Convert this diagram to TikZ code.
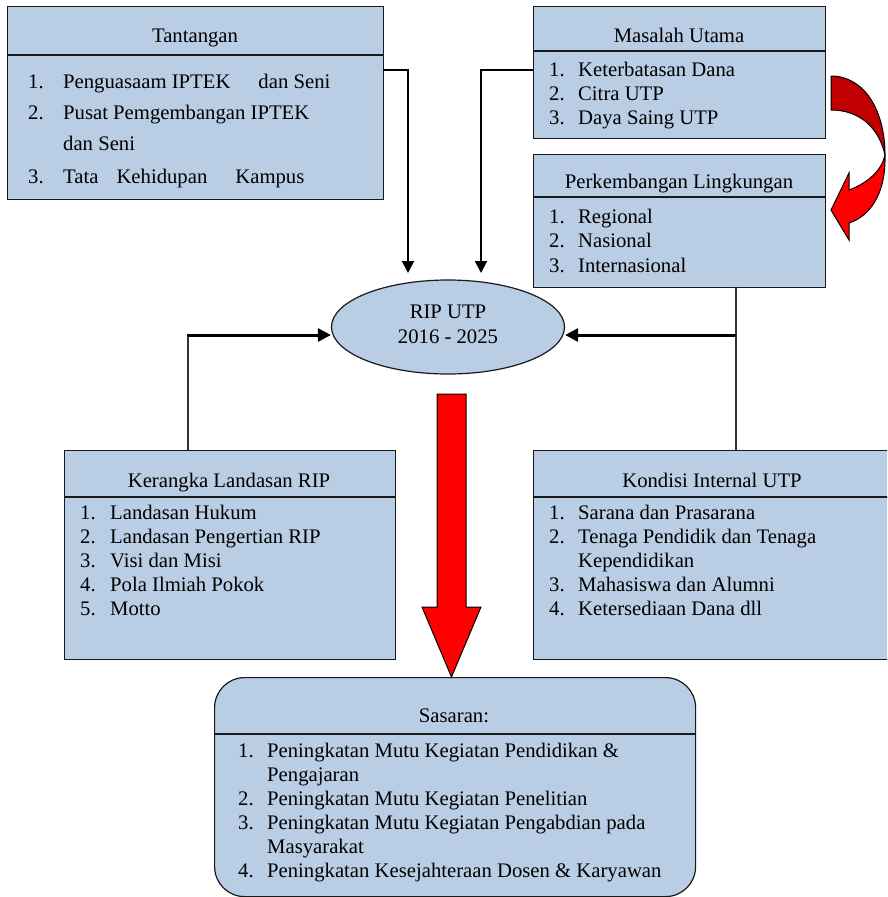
\documentclass[tikz,border=0pt]{standalone}
\usepackage{fontspec}
\setmainfont{Liberation Serif}
\usetikzlibrary{arrows.meta,shapes.geometric}
\definecolor{boxblue}{HTML}{B9CDE5}
\definecolor{darkred}{HTML}{C00000}
\newcommand{\itemtab}[2]{\begin{tabular}[t]{@{}p{#1}@{}l@{}}#2\end{tabular}}
\begin{document}
\begin{tikzpicture}[x=1pt,y=-1pt,
  box/.style={draw=black!90, fill=boxblue, line width=1.2pt, inner sep=0pt, anchor=north west},
  hdr/.style={draw=black!90, line width=1.2pt},
  ttl/.style={anchor=base, inner sep=0pt, font=\fontsize{20.7}{24}\selectfont},
  lst/.style={anchor=base west, inner sep=0pt, font=\fontsize{20.7}{24}\selectfont},
  conn/.style={line width=2pt, -{Triangle[length=12pt,width=12pt]}},
  connthick/.style={line width=3pt, -{Triangle[length=13pt,width=13pt]}},
  plainline/.style={line width=1.5pt, draw=black!80},
  bigarrow/.style={draw=black, line width=1pt, fill=red, line join=miter}
]
\clip (0,0) rectangle (887,897);

% boxes
\node[box, minimum width=376pt, minimum height=193pt] (tant) at (7,6) {};
\node[box, minimum width=292pt, minimum height=132pt] (masl) at (533,6) {};
\node[box, minimum width=292pt, minimum height=133pt] (perk) at (533,154) {};
\node[box, minimum width=331pt, minimum height=209pt] (kera) at (64,450) {};
\node[box, minimum width=358pt, minimum height=209pt] (kond) at (533,450) {};
\node[box, rounded corners=30pt, minimum width=481pt, minimum height=219pt] (sasa) at (214,677) {};
\node[ellipse, draw=black!90, fill=boxblue, line width=1.2pt, minimum width=233pt, minimum height=94pt, inner sep=0pt] (rip) at (448,327) {};

% header lines
\draw[hdr] (7,55) -- (383,55);
\draw[hdr] (533,51) -- (825,51);
\draw[hdr] (533,197) -- (825,197);
\draw[hdr] (64,497) -- (395,497);
\draw[hdr] (533,497) -- (891,497);
\draw[hdr] (214,734) -- (695,734);

% titles
\node[ttl] (tantT) at (195,42) {Tantangan};
\node[ttl] (maslT) at (679,42) {Masalah Utama};
\node[ttl] (perkT) at (679,188) {Perkembangan Lingkungan};
\node[ttl] (keraT) at (229,487) {Kerangka Landasan RIP};
\node[ttl] (kondT) at (712,487) {Kondisi Internal UTP};
\node[ttl] (sasaT) at (454,722) {Sasaran:};
\node[ttl] (rip1) at (448,318) {RIP UTP};
\node[ttl] (rip2) at (448,343) {2016 - 2025};

% lists
\node[lst] (tantL) at (28,88) {\itemtab{35pt}{%
1. & Penguasaam IPTEK\hspace{28pt}dan Seni\\[7pt]
2. & Pusat Pemgembangan IPTEK\\[7pt]
   & dan Seni\\[9pt]
3. & Tata\hspace{18pt}Kehidupan\hspace{28pt}Kampus}};
\node[lst] (maslL) at (549,76) {\itemtab{29pt}{%
1. & Keterbatasan Dana\\
2. & Citra UTP\\
3. & Daya Saing UTP}};
\node[lst] (perkL) at (549,223) {\itemtab{29pt}{%
1. & Regional\\
2. & Nasional\\[1pt]
3. & Internasional}};
\node[lst] (keraL) at (80,519) {\itemtab{30pt}{%
1. & Landasan Hukum\\
2. & Landasan Pengertian RIP\\
3. & Visi dan Misi\\
4. & Pola Ilmiah Pokok\\
5. & Motto}};
\node[lst] (kondL) at (549,519) {\itemtab{29pt}{%
1. & Sarana dan Prasarana\\
2. & Tenaga Pendidik dan Tenaga\\
   & Kependidikan\\
3. & Mahasiswa dan Alumni\\
4. & Ketersediaan Dana dll}};
\node[lst] (sasaL) at (238,757) {\itemtab{29pt}{%
1. & Peningkatan Mutu Kegiatan Pendidikan \&\\
   & Pengajaran\\
2. & Peningkatan Mutu Kegiatan Penelitian\\
3. & Peningkatan Mutu Kegiatan Pengabdian pada\\
   & Masyarakat\\
4. & Peningkatan Kesejahteraan Dosen \& Karyawan}};

% connectors
\coordinate (tA) at (383,70);
\coordinate (tB) at (408,273);
\draw[conn] (tA) -| (tB);
\coordinate (mA) at (533,70);
\coordinate (mB) at (481,273);
\draw[conn] (mA) -| (mB);
\coordinate (pA) at (736,287);
\coordinate (kA) at (736,450);
\coordinate (pJ) at (736,335);
\draw[plainline] (pA) -- (kA);
\draw[connthick] (pJ) -- (rip.east |- pJ);
\coordinate (kL) at (188,450);
\coordinate (kJ) at (188,335);
\draw[plainline] (kL) -- (kJ);
\draw[connthick] ([xshift=-0.75pt]kJ) -- (rip.west |- kJ);

% big red down arrow
\filldraw[bigarrow] (437,394) -- (466,394) -- (466,607) -- (481,607) -- (451.5,677) -- (422,607) -- (437,607) -- cycle;

% curved arrow
\filldraw[fill=darkred, draw=black, line width=1pt, line join=round] (831,76) .. controls (864,76) and (885,110) .. (885,155) .. controls (879,128) and (860,110) .. (831,110) -- cycle;
\filldraw[fill=red, draw=black, line width=1pt, line join=miter] (885,155) .. controls (886,194) and (870,216) .. (849,223) -- (849,240) -- (831,210) -- (849,173) -- (849,190) .. controls (868,183) and (882,170) .. (885,155) -- cycle;
\end{tikzpicture}
\end{document}
